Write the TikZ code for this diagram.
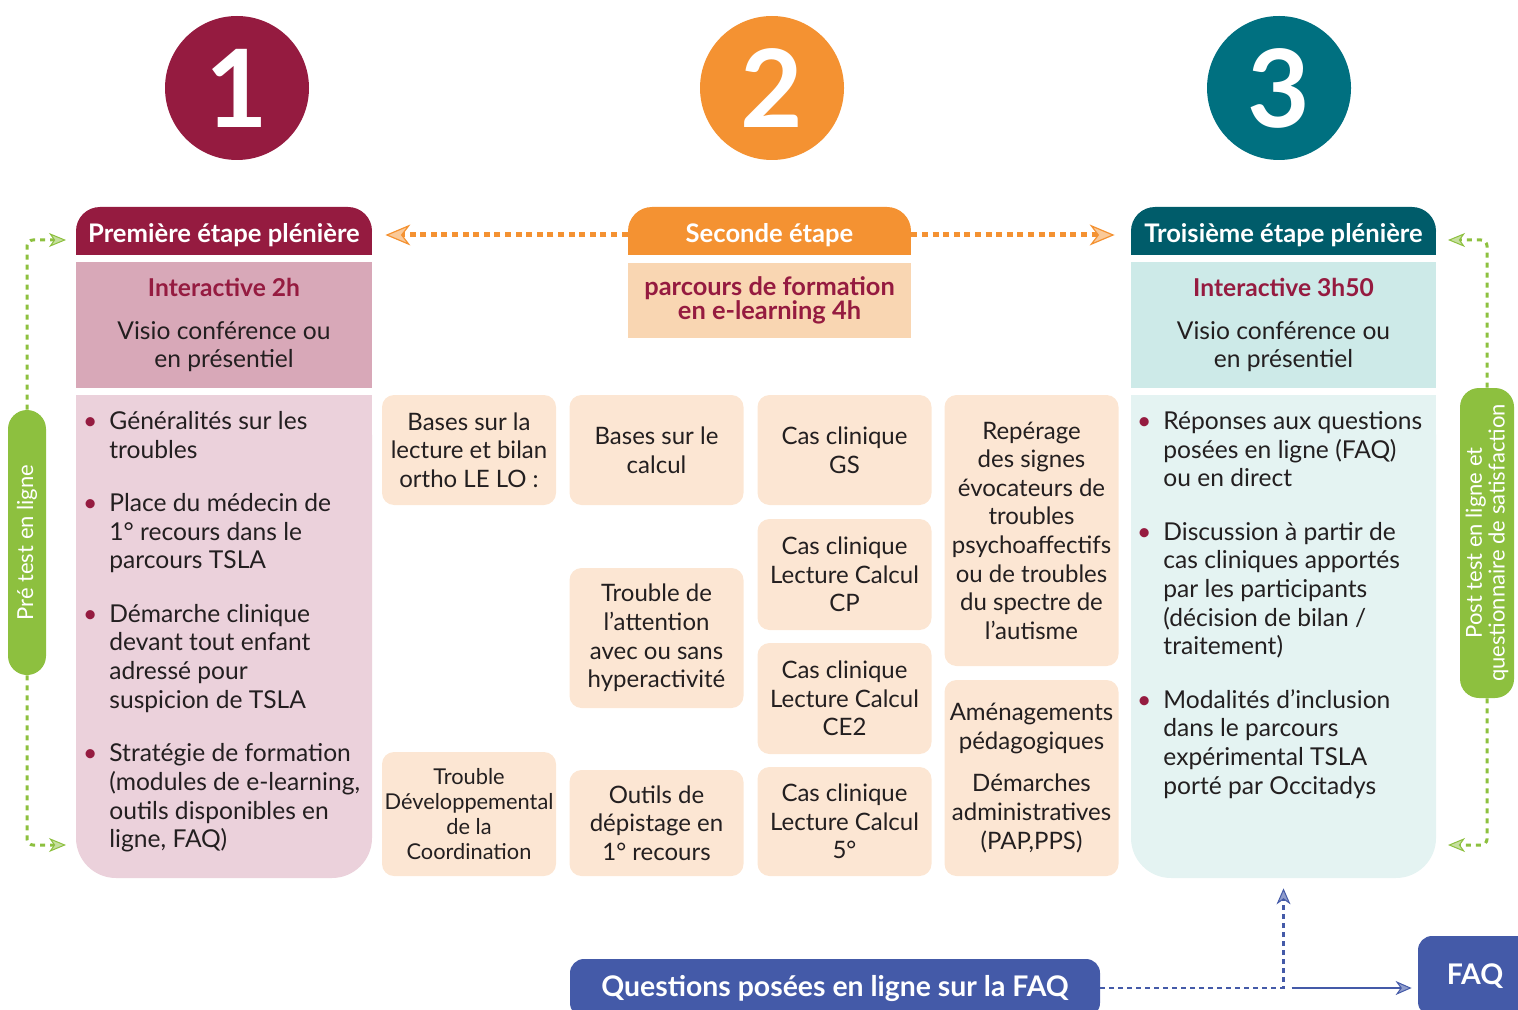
\documentclass[tikz,border=0pt]{standalone}
\usepackage{fontspec}
\setmainfont{Lato}
\usetikzlibrary{arrows.meta,backgrounds}

\definecolor{maroonc}{RGB}{149,27,64}
\definecolor{orangec}{RGB}{244,146,50}
\definecolor{tealc}{RGB}{0,112,128}
\definecolor{tealtab}{RGB}{0,92,106}
\definecolor{pinksub}{RGB}{216,168,184}
\definecolor{pinkbody}{RGB}{235,209,219}
\definecolor{peachsub}{RGB}{249,214,178}
\definecolor{peachbox}{RGB}{252,230,211}
\definecolor{tealsub}{RGB}{205,234,232}
\definecolor{tealbody}{RGB}{228,243,242}
\definecolor{greenc}{RGB}{141,192,63}
\definecolor{bluec}{RGB}{68,90,168}
\definecolor{textc}{RGB}{35,31,32}

\newcommand{\bul}{\llap{\textcolor{maroonc}{\textbullet}\hspace{6pt}}}
\newcommand{\tabtext}[1]{\raisebox{-6pt}[0pt][0pt]{#1}}

\tikzset{
  num/.style={circle, minimum size=72pt, inner sep=0pt, text=white,
    font=\fontsize{54}{54}\selectfont\bfseries},
  tab/.style={rounded corners=12pt, minimum height=24pt, inner sep=0pt, text=white,
    font=\fontsize{12.8}{14}\selectfont\bfseries},
  subhead/.style={align=center, inner sep=0pt, text=textc,
    font=\fontsize{12.3}{14.3}\selectfont},
  panel/.style={rounded corners=20pt, minimum width=148pt, minimum height=241.5pt, inner sep=0pt},
  list/.style={align=left, anchor=north west, inner sep=0pt, text=textc,
    font=\fontsize{12.3}{14.35}\selectfont},
  box/.style={fill=peachbox, rounded corners=6pt, align=center, inner sep=0pt,
    minimum width=87pt, text=textc, font=\fontsize{12}{14.3}\selectfont},
  pill/.style={fill=greenc, rotate=90, rounded corners=9.5pt, inner sep=0pt, align=center,
    text=white, font=\fontsize{11}{11.3}\selectfont},
  bluebox/.style={fill=bluec, rounded corners=7pt, inner sep=0pt, text=white,
    font=\fontsize{14.2}{16}\selectfont\bfseries},
  orangearrow/.style={orangec, line width=2.5pt, dash pattern=on 3pt off 2.3pt,
    -{Stealth[length=12.5pt, width=10.5pt, inset=4pt, line width=0.6pt, fill=orangec!50]}},
  greenarrow/.style={greenc, line width=1.5pt, dash pattern=on 2.5pt off 2.5pt, rounded corners=3pt,
    -{Stealth[length=8.5pt, width=7pt, inset=2.5pt, line width=0.5pt, fill=greenc!50]}},
  bluearrow/.style={bluec, line width=1.3pt,
    -{Stealth[length=8pt, width=7pt, inset=2.5pt, line width=0.5pt, fill=bluec!60]}},
}

\begin{document}
\begin{tikzpicture}[x=0.5pt, y=-0.5pt]
  \clip (0,0) rectangle (1518,1010);

  % step numbers
  \node[num, fill=maroonc] (n1) at (237,88) {1};
  \node[num, fill=orangec] (n2) at (772,88) {2};
  \node[num, fill=tealc]   (n3) at (1279,88) {3};

  % tabs
  \node[tab, fill=maroonc, minimum width=148pt]   (t1) at (224,231)    {\tabtext{Première étape plénière}};
  \node[tab, fill=orangec, minimum width=141.5pt] (t2) at (769.5,231)  {\tabtext{Seconde étape}};
  \node[tab, fill=tealtab, minimum width=152.5pt] (t3) at (1283.5,231) {\tabtext{Troisième étape plénière}};
  \begin{pgfonlayer}{background}
    \fill[maroonc] (t1.west) rectangle (t1.south east);
    \fill[orangec] (t2.west) rectangle (t2.south east);
    \fill[tealtab] (t3.west) rectangle (t3.south east);
  \end{pgfonlayer}

  % sub headers
  \node[subhead, fill=pinksub, minimum width=148pt, minimum height=63pt] (s1) at (224,325)
    {\textcolor{maroonc}{\bfseries Interactive 2h}\\[7pt]Visio conférence ou\\en présentiel};
  \node[subhead, fill=peachsub, minimum width=141.5pt, minimum height=37.5pt, text=maroonc,
    font=\fontsize{12.7}{12}\selectfont\bfseries] (s2) at (769.5,300.5)
    {parcours de formation\\en e-learning 4h};
  \node[subhead, fill=tealsub, minimum width=152.5pt, minimum height=63pt] (s3) at (1283.5,325)
    {\textcolor{maroonc}{\bfseries Interactive 3h50}\\[7pt]Visio conférence ou\\en présentiel};

  % plenary panels
  \node[panel, fill=pinkbody] (b1) at (224,636.5) {};
  \node[panel, fill=tealbody, minimum width=152.5pt] (b3) at (1283.5,636.5) {};
  \begin{pgfonlayer}{background}
    \fill[pinkbody] (b1.north west) rectangle (b1.east);
    \fill[tealbody] (b3.north west) rectangle (b3.east);
  \end{pgfonlayer}

  \node[list] (l1) at (109,411) {\bul Généralités sur les\\troubles\\[12.3pt]
    \bul Place du médecin de\\1° recours dans le\\parcours TSLA\\[12.3pt]
    \bul Démarche clinique\\devant tout enfant\\adressé pour\\suspicion de TSLA\\[12.3pt]
    \bul Stratégie de formation\\(modules de e-learning,\\outils disponibles en\\ligne, FAQ)};
  \node[list] (l3) at (1163,411) {\bul Réponses aux questions\\posées en ligne (FAQ)\\ou en direct\\[12.3pt]
    \bul Discussion à partir de\\cas cliniques apportés\\par les participants\\(décision de bilan /\\traitement)\\[12.3pt]
    \bul Modalités d’inclusion\\dans le parcours\\expérimental TSLA\\porté par Occitadys};

  % e-learning modules
  \node[box, minimum height=55pt] (c1a) at (469,450) {Bases sur la\\lecture et bilan\\ortho LE LO :};
  \node[box, minimum height=62pt, font=\fontsize{10.9}{12.6}\selectfont] (c1b) at (469,814)
    {Trouble\\Développemental\\de la\\Coordination};
  \node[box, minimum height=55pt] (c2a) at (656.5,450) {Bases sur le\\calcul};
  \node[box, minimum height=70pt] (c2b) at (656.5,638) {Trouble de\\l’attention\\avec ou sans\\hyperactivité};
  \node[box, minimum height=53pt] (c2c) at (656.5,823) {Outils de\\dépistage en\\1° recours};
  \node[box, minimum height=55pt] (c3a) at (844.5,450) {Cas clinique\\GS};
  \node[box, minimum height=55.5pt] (c3b) at (844.5,574.5) {Cas clinique\\Lecture Calcul\\CP};
  \node[box, minimum height=55.5pt] (c3c) at (844.5,698.5) {Cas clinique\\Lecture Calcul\\CE2};
  \node[box, minimum height=54.5pt] (c3d) at (844.5,821.5) {Cas clinique\\Lecture Calcul\\5°};
  \node[box, minimum height=135.5pt] (c4a) at (1031.5,530.5) {Repérage\\des signes\\évocateurs de\\troubles\\psychoaffectifs\\ou de troubles\\du spectre de\\l’autisme};
  \node[box, minimum height=98pt] (c4b) at (1031.5,778) {Aménagements\\pédagogiques\\[7pt]Démarches\\administratives\\(PAP,PPS)};

  % tests
  \node[pill, minimum width=132.5pt, minimum height=19pt] (p1) at (27,542.5) {Pré test en ligne};
  \node[pill, minimum width=155pt, minimum height=27pt] (p3) at (1487,543)
    {Post test en ligne et\\questionnaire de satisfaction};

  % FAQ
  \node[bluebox, minimum width=265pt, minimum height=29pt] (q) at (835,988) {Questions posées en ligne sur la FAQ};
  \node[bluebox, minimum width=57pt, minimum height=40pt] (faq) at (1475,976) {\raisebox{-1pt}{FAQ}};

  \coordinate (g1) at (66,240);
  \coordinate (g2) at (66,845);
  \coordinate (g3) at (1448,240);
  \coordinate (g4) at (1448,845);
  \coordinate (fork) at (b3.south |- q.east);

  % connectors
  \draw[orangearrow, shorten >=6.5pt] ([yshift=-2pt]t2.west) -- ([yshift=-2pt]t1.east);
  \draw[orangearrow, shorten >=8pt] ([yshift=-2pt]t2.east) -- ([yshift=-2pt]t3.west);
  \draw[greenarrow] (p1.east) |- (g1);
  \draw[greenarrow] (p1.west) |- (g2);
  \draw[greenarrow] (p3.east) |- (g3);
  \draw[greenarrow] (p3.west) |- (g4);
  \draw[bluearrow, dash pattern=on 2.5pt off 2pt, shorten >=5pt] (q.east) -| (b3.south);
  \draw[bluearrow, shorten >=3pt] ([xshift=4pt]fork) -- (fork -| faq.west);
\end{tikzpicture}
\end{document}
